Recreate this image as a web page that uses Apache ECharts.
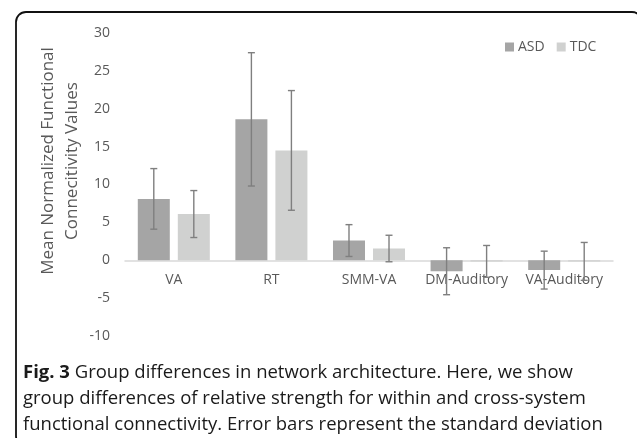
<!DOCTYPE html>
<html>
<head>
<meta charset="utf-8">
<script src="https://cdn.jsdelivr.net/npm/echarts@6/dist/echarts.min.js"></script>
<style>
  html, body { margin: 0; padding: 0; background: #fff; }
  #chart { width: 637px; height: 438px; }
</style>
</head>
<body>
<div id="chart"></div>
<script>
// Network pairs on the x axis
const categories = ['VA', 'RT', 'SMM-VA', 'DM-Auditory', 'VA-Auditory'];
// Group means
const asdMean = [8.1, 18.6, 2.6, -1.45, -1.3];
const tdcMean = [6.1, 14.5, 1.55, -0.15, -0.15];
// Standard deviations (error bar half-lengths)
const asdSD = [4.0, 8.8, 2.1, 3.1, 2.5];
const tdcSD = [3.1, 7.9, 1.75, 2.1, 2.5];
// Value axis ticks
const yTicks = { min: -10, max: 30, step: 5 };

const TEXT = '#595959';
const FONT = '"Open Sans", "Noto Sans", sans-serif';
const ASD_COLOR = '#a5a5a5';
const TDC_COLOR = '#d0d1d0';
const BAR_W = 0.328;   // bar width as share of the category band
const BAR_GAP = 0.25;  // gap between paired bars, relative to bar width

const W = 637, H = 438;
const GRID = { left: 125, right: 24, top: 33, bottom: 102 };
// lift the category axis from the bottom of the plot up to the zero line
const plotH = H - GRID.top - GRID.bottom;
const zeroLift = plotH * (0 - yTicks.min) / (yTicks.max - yTicks.min);

function errorSeries(name, means, sds, side) {
  return {
    type: 'custom',
    name: name + ' SD',
    z: 5,
    silent: true,
    data: means.map((m, i) => [i, m - sds[i], m + sds[i]]),
    renderItem: function (params, api) {
      const band = api.size([1, 0])[0];
      const shift = side * band * BAR_W * (1 + BAR_GAP) / 2;
      const lo = api.coord([api.value(0), api.value(1)]);
      const hi = api.coord([api.value(0), api.value(2)]);
      const x = lo[0] + shift;
      const cap = 3.5;
      const style = { stroke: '#7f7f7f', lineWidth: 1.4, fill: null };
      return {
        type: 'group',
        children: [
          { type: 'line', shape: { x1: x, y1: lo[1], x2: x, y2: hi[1] }, style: style },
          { type: 'line', shape: { x1: x - cap, y1: lo[1], x2: x + cap, y2: lo[1] }, style: style },
          { type: 'line', shape: { x1: x - cap, y1: hi[1], x2: x + cap, y2: hi[1] }, style: style }
        ]
      };
    }
  };
}

const chart = echarts.init(document.getElementById('chart'), null, { renderer: 'canvas' });
chart.setOption({
  animation: false,
  backgroundColor: '#fff',
  textStyle: { fontFamily: FONT },
  grid: Object.assign({ containLabel: false }, GRID),
  legend: {
    data: ['ASD', 'TDC'],
    left: 500, top: 35,
    itemWidth: 9, itemHeight: 9, itemGap: 12,
    icon: 'rect',
    textStyle: { color: TEXT, fontSize: 14, fontFamily: FONT, padding: [0, 0, 0, -1] }
  },
  xAxis: {
    type: 'category',
    data: categories,
    offset: -zeroLift,
    axisLine: { onZero: false, lineStyle: { color: '#d9d9d9', width: 1.5 } },
    axisTick: { show: false },
    axisLabel: { color: TEXT, fontSize: 14, fontFamily: FONT, margin: 13, interval: 0 }
  },
  yAxis: {
    type: 'value',
    min: yTicks.min, max: yTicks.max, interval: yTicks.step,
    axisLine: { show: false },
    axisTick: { show: false },
    splitLine: { show: false },
    axisLabel: { color: TEXT, fontSize: 14, fontFamily: FONT, margin: 15 }
  },
  series: [
    {
      name: 'ASD', type: 'bar', data: asdMean,
      barWidth: (BAR_W * 100) + '%', barGap: (BAR_GAP * 100) + '%',
      itemStyle: { color: ASD_COLOR }
    },
    {
      name: 'TDC', type: 'bar', data: tdcMean,
      barWidth: (BAR_W * 100) + '%', barGap: (BAR_GAP * 100) + '%',
      itemStyle: { color: TDC_COLOR }
    },
    errorSeries('ASD', asdMean, asdSD, -1),
    errorSeries('TDC', tdcMean, tdcSD, 1)
  ],
  graphic: [
    {
      type: 'rect', silent: true, z: 0,
      shape: { x: 16, y: 12, width: 626, height: 434, r: 10 },
      style: { fill: null, stroke: '#111', lineWidth: 1.8 }
    },
    {
      type: 'text', silent: true,
      x: 60, y: 161, rotation: Math.PI / 2,
      style: {
        text: 'Mean Normalized Functional\nConnecitivity Values',
        fill: TEXT, font: '17px ' + FONT,
        align: 'center', verticalAlign: 'middle', lineHeight: 24
      }
    },
    {
      type: 'text', silent: true,
      x: 23, y: 360,
      style: {
        text: '{b|Fig. 3} Group differences in network architecture. Here, we show\n' +
              'group differences of relative strength for within and cross-system\n' +
              'functional connectivity. Error bars represent the standard deviation',
        fill: '#1a1a1a', font: '18.5px ' + FONT, lineHeight: 26,
        rich: {
          b: { fontWeight: 'bold', fontSize: 18.5, fontFamily: FONT, fill: '#1a1a1a' }
        }
      }
    }
  ]
});
</script>
</body>
</html>
